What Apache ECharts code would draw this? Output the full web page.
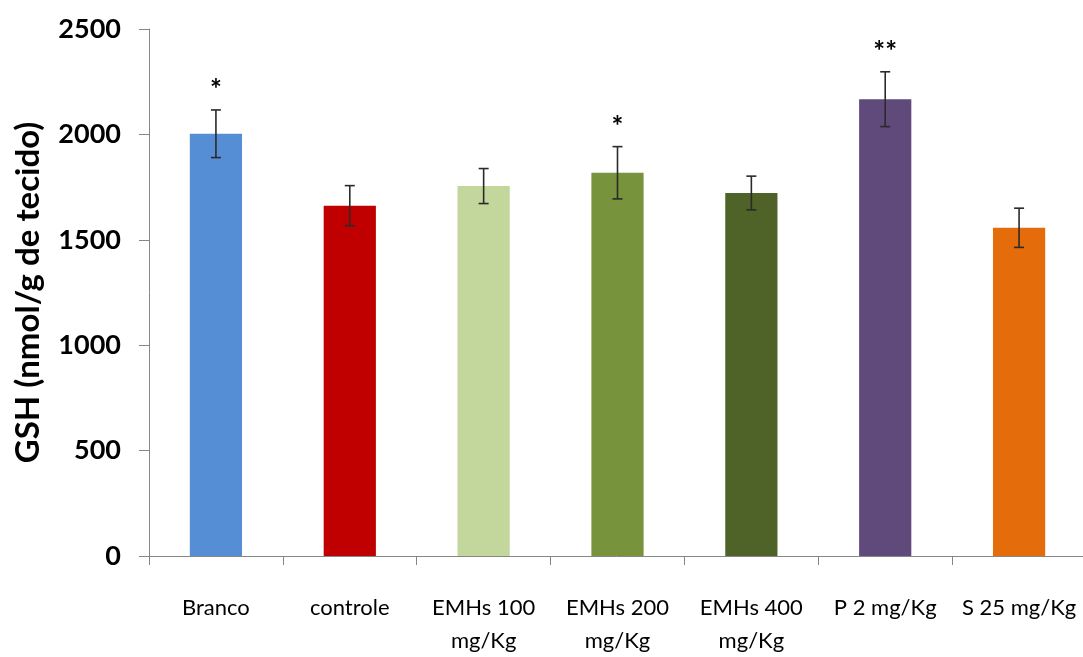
<!DOCTYPE html>
<html>
<head>
<meta charset="utf-8">
<script src="https://cdn.jsdelivr.net/npm/echarts@6/dist/echarts.min.js"></script>
<style>
html,body{margin:0;padding:0;background:#fff;}
#chart{width:1083px;height:657px;}
</style>
</head>
<body>
<div id="chart"></div>
<script>
const categories = ['Branco', 'controle', 'EMHs 100\nmg/Kg', 'EMHs 200\nmg/Kg', 'EMHs 400\nmg/Kg', 'P 2 mg/Kg', 'S 25 mg/Kg'];
const gshMeans = [2003, 1662, 1755, 1818, 1722, 2167, 1557];
const gshErrors = [113, 95, 83, 124, 80, 130, 93];
const significance = ['*', '', '', '*', '', '**', ''];
const barColors = ['#558ED5', '#C00000', '#C3D69B', '#77933C', '#4F6228', '#604A7B', '#E46C0A'];
const yTicks = [0, 500, 1000, 1500, 2000, 2500];

const chart = echarts.init(document.getElementById('chart'));
const fontFam = 'Lato, "Open Sans", sans-serif';

chart.setOption({
  animation: false,
  backgroundColor: '#ffffff',
  grid: { left: 149, top: 29, width: 937, height: 527, containLabel: false, outerBoundsMode: 'none' },
  xAxis: {
    type: 'category',
    data: categories,
    axisLine: { lineStyle: { color: '#868686', width: 1 } },
    axisTick: { show: true, alignWithLabel: false, length: 9, lineStyle: { color: '#868686' } },
    axisLabel: {
      color: '#000', fontFamily: fontFam, fontSize: 22, margin: 35, lineHeight: 33, interval: 0
    }
  },
  yAxis: {
    type: 'value',
    min: yTicks[0], max: yTicks[yTicks.length - 1], interval: 500,
    name: 'GSH (nmol/g de tecido)',
    nameLocation: 'middle',
    nameGap: 104,
    nameTextStyle: { color: '#000', fontFamily: fontFam, fontSize: 33, fontWeight: 'bold' },
    axisLine: { show: true, lineStyle: { color: '#868686', width: 1 } },
    axisTick: { show: true, length: 10, lineStyle: { color: '#868686' } },
    splitLine: { show: false },
    axisLabel: {
      color: '#000', fontFamily: fontFam, fontSize: 27, fontWeight: 'bold', margin: 28,
      formatter: function (v) { return String(v); }
    }
  },
  series: [
    {
      type: 'bar',
      data: gshMeans.map((v, i) => ({ value: v, itemStyle: { color: barColors[i] } })),
      barWidth: '39%'
    },
    {
      type: 'custom',
      data: gshMeans.map((v, i) => [i, v, gshErrors[i]]),
      renderItem: function (params, api) {
        const i = api.value(0), m = api.value(1), e = api.value(2);
        const top = api.coord([i, m + e]);
        const bot = api.coord([i, m - e]);
        const cap = 5;
        const stroke = { stroke: '#2a2a2a', lineWidth: 1.6 };
        const children = [
          { type: 'line', shape: { x1: top[0], y1: top[1], x2: bot[0], y2: bot[1] }, style: stroke },
          { type: 'line', shape: { x1: top[0] - cap, y1: top[1], x2: top[0] + cap, y2: top[1] }, style: stroke },
          { type: 'line', shape: { x1: bot[0] - cap, y1: bot[1], x2: bot[0] + cap, y2: bot[1] }, style: stroke }
        ];
        const sig = significance[params.dataIndex];
        if (sig) {
          children.push({
            type: 'text',
            style: {
              text: sig, x: top[0], y: top[1] - 20,
              fill: '#000', font: 'bold 28px ' + fontFam,
              align: 'center', verticalAlign: 'middle'
            }
          });
        }
        return { type: 'group', children: children };
      },
      z: 10
    }
  ]
});
</script>
</body>
</html>
